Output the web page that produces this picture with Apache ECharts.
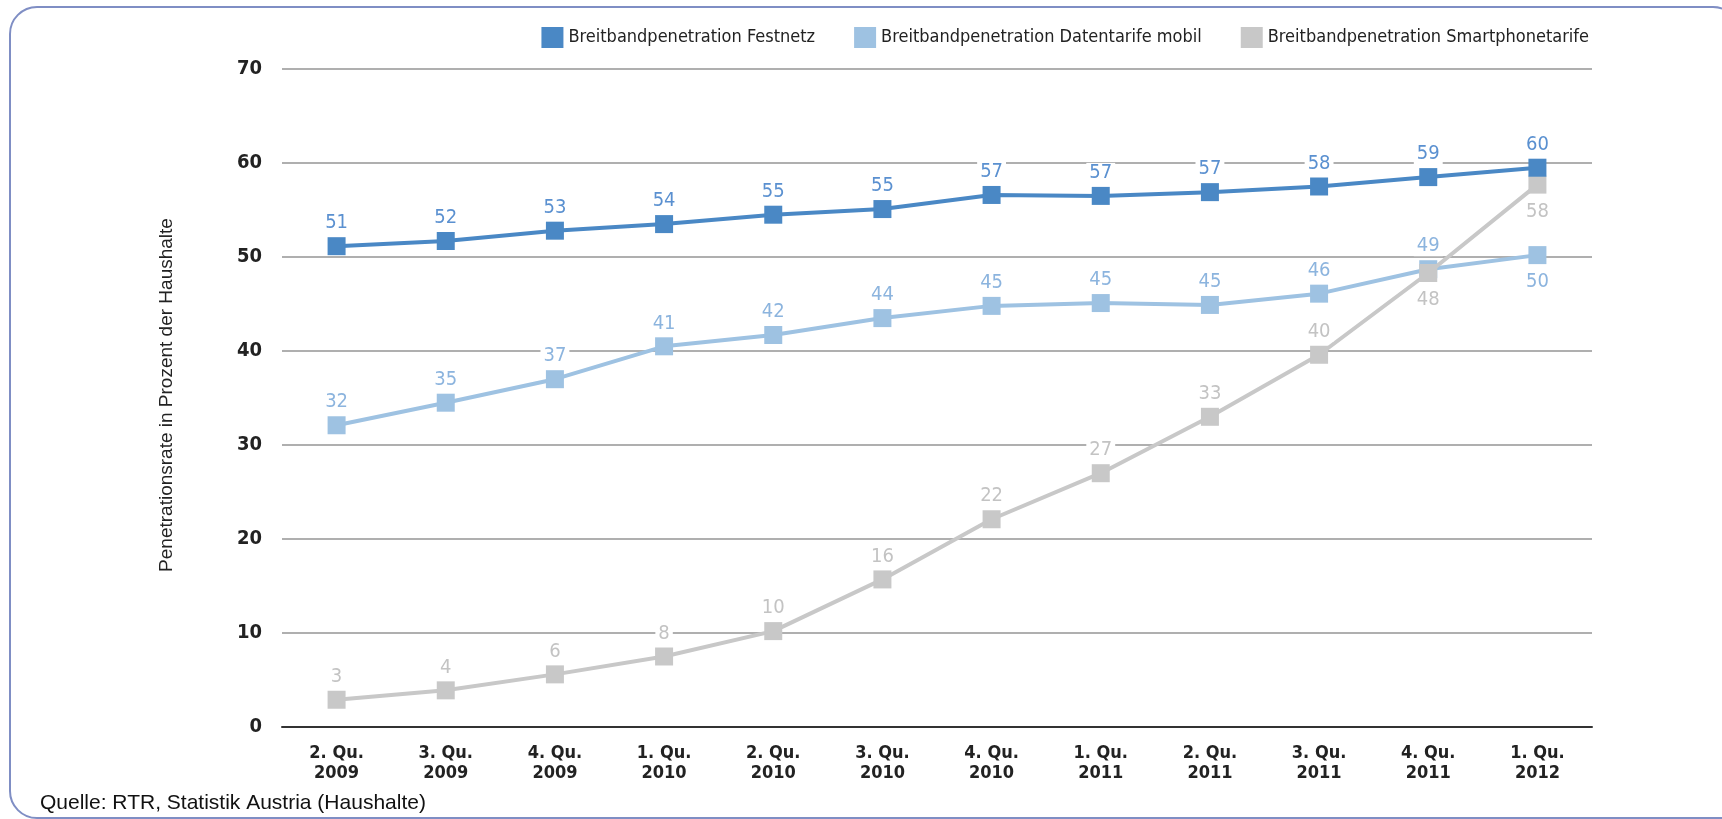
<!DOCTYPE html>
<html>
<head>
<meta charset="utf-8">
<script src="https://cdn.jsdelivr.net/npm/echarts@6/dist/echarts.min.js"></script>
<style>
html,body{margin:0;padding:0;background:#fff;overflow:hidden;}
#c{width:1722px;height:819px;}
</style>
</head>
<body>
<div id="c"></div>
<script>
const categories = ['2. Qu.\n2009','3. Qu.\n2009','4. Qu.\n2009','1. Qu.\n2010','2. Qu.\n2010','3. Qu.\n2010','4. Qu.\n2010','1. Qu.\n2011','2. Qu.\n2011','3. Qu.\n2011','4. Qu.\n2011','1. Qu.\n2012'];
const festnetz = [51.15, 51.7, 52.8, 53.5, 54.5, 55.1, 56.6, 56.5, 56.9, 57.5, 58.5, 59.5];
const datentarife = [32.1, 34.5, 37.0, 40.5, 41.7, 43.5, 44.8, 45.1, 44.9, 46.1, 48.7, 50.2];
const smartphone = [2.9, 3.9, 5.6, 7.5, 10.2, 15.7, 22.1, 27.0, 33.0, 39.6, 48.3, 57.7];
const seriesNames = ['Breitbandpenetration Festnetz','Breitbandpenetration Datentarife mobil','Breitbandpenetration Smartphonetarife'];
const yTicks = [0, 70, 10];
const belowFestnetz = [];
const belowDaten = [11];
const belowSmart = [10, 11];

const NARROW = '"DejaVu Sans Condensed","Liberation Sans Narrow",sans-serif';

function build(vals, below){
  return vals.map((v,i)=> below.indexOf(i) >= 0 ? {value:v, label:{position:'bottom', distance:8}} : v);
}
function mk(name, vals, below, lineColor, labelColor, z){
  return {
    name, type:'line', data: build(vals, below), z,
    symbol:'rect', symbolSize:18, color:lineColor,
    lineStyle:{width:4, color:lineColor},
    itemStyle:{color:lineColor},
    emphasis:{disabled:true},
    label:{show:true, position:'top', distance:4,
      formatter:p=>Math.round(p.value),
      fontFamily:NARROW, fontSize:20, color:labelColor,
      backgroundColor:'#fff', padding:[0,3], lineHeight:20},
    animation:false
  };
}

const FRAME = {stroke:'#7f8ec4', lineWidth:2, fill:'none'};
const chart = echarts.init(document.getElementById('c'));
chart.setOption({
  animation:false,
  grid:{left:282, right:130, top:69, bottom:92, containLabel:false},
  legend:{
    data:seriesNames, right:128, top:22, itemWidth:22, itemHeight:21, itemGap:39,
    icon:'rect',
    textStyle:{fontFamily:NARROW, fontSize:18, color:'#222'}
  },
  xAxis:{
    type:'category', data:categories, boundaryGap:true,
    axisLine:{show:true, lineStyle:{color:'#333', width:2}},
    axisTick:{show:false},
    axisLabel:{margin:16, fontFamily:NARROW, fontWeight:'bold', fontSize:18, lineHeight:20, color:'#222', interval:0}
  },
  yAxis:{
    type:'value', min:yTicks[0], max:yTicks[1], interval:yTicks[2],
    axisLine:{show:false}, axisTick:{show:false},
    splitLine:{lineStyle:{color:'#959595', width:1.6}},
    axisLabel:{margin:20, fontFamily:NARROW, fontWeight:'bold', fontSize:20, color:'#222'}
  },
  series:[
    mk(seriesNames[0], festnetz, belowFestnetz, '#4a88c5', '#5a90d0', 5),
    mk(seriesNames[1], datentarife, belowDaten, '#9ec2e2', '#8cb4de', 3),
    mk(seriesNames[2], smartphone, belowSmart, '#c8c8c8', '#c3c3c3', 4)
  ],
  graphic:[
    {type:'polyline', silent:true, shape:{points:[[10,791],[10,34]]}, style:FRAME},
    {type:'polyline', silent:true, shape:{points:[[37,7],[1713,7]]}, style:FRAME},
    {type:'polyline', silent:true, shape:{points:[[37,818],[1760,818]]}, style:FRAME},
    {type:'arc', silent:true, shape:{cx:37, cy:34, r:27, startAngle:Math.PI, endAngle:Math.PI*1.5}, style:FRAME},
    {type:'arc', silent:true, shape:{cx:37, cy:791, r:27, startAngle:Math.PI*0.5, endAngle:Math.PI}, style:FRAME},
    {type:'arc', silent:true, shape:{cx:1713, cy:34, r:27, startAngle:Math.PI*1.5, endAngle:Math.PI*2}, style:FRAME},
    {type:'text', x:167, y:395, rotation:Math.PI/2,
      style:{text:'Penetrationsrate in Prozent der Haushalte', font:'19px "Liberation Sans", Arial, sans-serif', fill:'#222', align:'center', verticalAlign:'middle'}},
    {type:'text', x:40, y:803,
      style:{text:'Quelle: RTR, Statistik Austria (Haushalte)', font:'21px "Liberation Sans", Arial, sans-serif', fill:'#111', align:'left', verticalAlign:'middle'}}
  ]
});
</script>
</body>
</html>
